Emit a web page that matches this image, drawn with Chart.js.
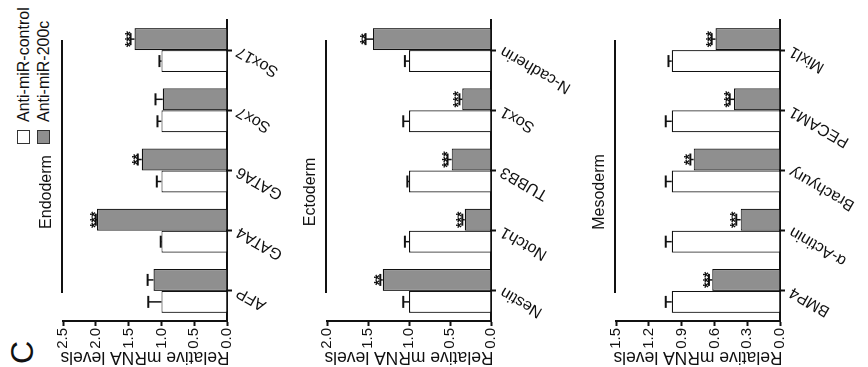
<!DOCTYPE html>
<html><head><meta charset="utf-8">
<script src="https://cdn.jsdelivr.net/npm/chart.js@4.4.1/dist/chart.umd.min.js"></script>
<style>
html,body{margin:0;padding:0;background:#fff;overflow:hidden;width:868px;height:367px;}
#fig{position:absolute;left:0;top:0;width:367px;height:868px;transform-origin:0 0;transform:translate(0px,367px) rotate(-90deg);background:#fff;}
canvas{position:absolute;left:0;}
.t{position:absolute;font-family:"Liberation Sans",Arial,sans-serif;color:#111;white-space:nowrap;}
.box{position:absolute;width:14px;height:13px;border:1.3px solid #333;box-sizing:border-box;}
</style></head>
<body>
<div id="fig">
  <div class="t" style="left:3px;top:6px;font-size:32px;line-height:32px;">C</div>
  <div class="box" style="left:223px;top:17px;background:#fff;"></div>
  <div class="t" style="left:245px;top:16px;font-size:16px;line-height:16px;">Anti-miR-control</div>
  <div class="box" style="left:223px;top:37px;background:#8f8f8f;"></div>
  <div class="t" style="left:245px;top:36px;font-size:16px;line-height:16px;">Anti-miR-200c</div>
  <canvas id="endo" width="367" height="330" style="top:0px"></canvas>
  <canvas id="ecto" width="367" height="330" style="top:264px"></canvas>
  <canvas id="meso" width="367" height="315" style="top:553px"></canvas>
</div>
<script>
// ---- Data ----
const seriesNames = ['Anti-miR-control', 'Anti-miR-200c'];

const endoCategories = ['AFP', 'GATA4', 'GATA6', 'Sox7', 'Sox17'];
const endoControl    = [1.0, 1.0, 1.0, 1.0, 1.0];
const endoControlErr = [0.2, 0.01, 0.07, 0.06, 0.03];
const endoTreat      = [1.12, 1.98, 1.30, 0.98, 1.41];
const endoTreatErr   = [0.09, 0.02, 0.06, 0.11, 0.06];
const endoStars      = ['', '***', '**', '', '***'];

const ectoCategories = ['Nestin', 'Notch1', 'TUBB3', 'Sox1', 'N-cadherin'];
const ectoControl    = [1.0, 1.0, 1.0, 1.0, 1.0];
const ectoControlErr = [0.07, 0.05, 0.02, 0.07, 0.05];
const ectoTreat      = [1.32, 0.32, 0.48, 0.35, 1.44];
const ectoTreatErr   = [0.03, 0.03, 0.05, 0.035, 0.09];
const ectoStars      = ['**', '***', '***', '***', '**'];

const mesoCategories = ['BMP4', 'α-Actinin', 'Brachyury', 'PECAM1', 'Mixl1'];
const mesoControl    = [0.99, 0.99, 0.99, 0.99, 0.99];
const mesoControlErr = [0.055, 0.055, 0.055, 0.055, 0.03];
const mesoTreat      = [0.62, 0.36, 0.79, 0.42, 0.59];
const mesoTreatErr   = [0.03, 0.04, 0.03, 0.04, 0.035];
const mesoStars      = ['***', '***', '**', '***', '***'];

const endoTicks = [0, 2.5, 0.5];
const ectoTicks = [0, 2.0, 0.5];
const mesoTicks = [0, 1.5, 0.3];

const panelTitles = ['Endoderm', 'Ectoderm', 'Mesoderm'];
const yTitle = 'Relative mRNA levels';

// ---- Rendering ----
const FONT = '"Liberation Sans", Arial, sans-serif';
Chart.defaults.font.family = FONT;
Chart.defaults.color = '#111';

const errPlugin = {
  id: 'errStars',
  afterDatasetsDraw(chart) {
    const ctx = chart.ctx, y = chart.scales.y;
    ctx.save();
    chart.data.datasets.forEach((ds, di) => {
      const meta = chart.getDatasetMeta(di);
      meta.data.forEach((bar, i) => {
        const top = y.getPixelForValue(ds.data[i] + ds.errors[i]);
        ctx.strokeStyle = '#111';
        ctx.lineWidth = 1.5;
        ctx.beginPath(); ctx.moveTo(bar.x, bar.y); ctx.lineTo(bar.x, top); ctx.stroke();
        ctx.lineWidth = 2;
        ctx.beginPath(); ctx.moveTo(bar.x - 6, top); ctx.lineTo(bar.x + 6, top); ctx.stroke();
        if (ds.stars && ds.stars[i]) {
          ctx.fillStyle = '#111';
          ctx.font = 'bold 14px ' + FONT;
          ctx.textAlign = 'center';
          ctx.textBaseline = 'alphabetic';
          ctx.fillText(ds.stars[i], bar.x, top + 4);
        }
      });
    });
    ctx.restore();
  }
};

const titlePlugin = {
  id: 'panelTitle',
  afterDraw(chart, args, opts) {
    const ctx = chart.ctx, a = chart.chartArea;
    ctx.save();
    ctx.fillStyle = '#111';
    ctx.font = '16px ' + FONT;
    ctx.textAlign = 'center';
    ctx.textBaseline = 'middle';
    ctx.fillText(opts.text, 175, a.top - 16);
    ctx.strokeStyle = '#111';
    ctx.lineWidth = 2;
    ctx.beginPath(); ctx.moveTo(74, a.top - 1); ctx.lineTo(327, a.top - 1); ctx.stroke();
    ctx.restore();
  }
};

function makeChart(id, cats, ctrl, ctrlErr, trt, trtErr, stars, ticks, title) {
  const cv = document.getElementById(id);
  const xh = cv.height - 227;
  new Chart(cv, {
    type: 'bar',
    data: {
      labels: cats,
      datasets: [
        { label: seriesNames[0], data: ctrl, errors: ctrlErr, stars: null,
          backgroundColor: '#ffffff', borderColor: '#111', borderWidth: 1.2,
          barPercentage: 1.0, categoryPercentage: 0.73 },
        { label: seriesNames[1], data: trt, errors: trtErr, stars: stars,
          backgroundColor: '#8f8f8f', borderColor: '#111', borderWidth: 1.2,
          barPercentage: 1.0, categoryPercentage: 0.73 }
      ]
    },
    options: {
      responsive: false,
      animation: false,
      layout: { padding: { top: 63, right: 20, left: 0, bottom: 0 } },
      plugins: {
        legend: { display: false },
        tooltip: { enabled: false },
        panelTitle: { text: title }
      },
      scales: {
        x: {
          grid: { display: true, drawOnChartArea: false, drawTicks: true, tickLength: 5,
                  tickWidth: 2, tickColor: '#111', offset: false },
          border: { display: true, color: '#111', width: 2 },
          ticks: { font: { size: 16 }, minRotation: 60, maxRotation: 60, padding: 1, color: '#111' },
          afterFit(s) { s.height = xh; }
        },
        y: {
          min: ticks[0], max: ticks[1],
          grid: { display: true, drawOnChartArea: false, drawTicks: true, tickLength: 5,
                  tickWidth: 2, tickColor: '#111' },
          border: { display: true, color: '#111', width: 2 },
          ticks: { stepSize: ticks[2], font: { size: 15 }, padding: 2, color: '#111',
                   callback: v => Number(v).toFixed(1) },
          title: { display: true, text: yTitle, font: { size: 17.5 }, padding: { top: 0, bottom: 0 }, color: '#111' },
          afterFit(s) { s.width = 46; }
        }
      }
    },
    plugins: [errPlugin, titlePlugin]
  });
}

makeChart('endo', endoCategories, endoControl, endoControlErr, endoTreat, endoTreatErr, endoStars, endoTicks, panelTitles[0]);
makeChart('ecto', ectoCategories, ectoControl, ectoControlErr, ectoTreat, ectoTreatErr, ectoStars, ectoTicks, panelTitles[1]);
makeChart('meso', mesoCategories, mesoControl, mesoControlErr, mesoTreat, mesoTreatErr, mesoStars, mesoTicks, panelTitles[2]);
</script>
</body></html>
